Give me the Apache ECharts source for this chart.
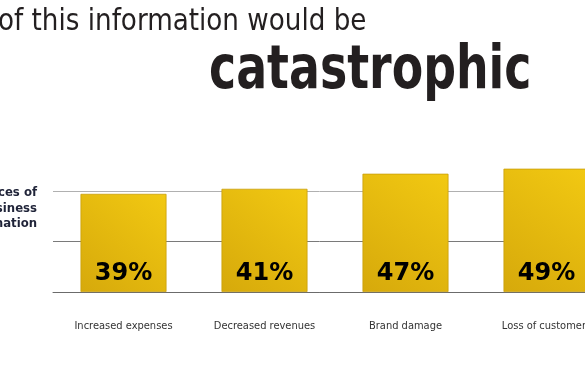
<!DOCTYPE html>
<html>
<head>
<meta charset="utf-8">
<script src="https://cdn.jsdelivr.net/npm/echarts@6/dist/echarts.min.js"></script>
<style>html,body{margin:0;padding:0;background:#fff;}#c{width:585px;height:372px;}</style>
</head>
<body>
<div id="c"></div>
<script>
const categories = ['Increased expenses', 'Decreased revenues', 'Brand damage', 'Loss of customers'];
const values = [39, 41, 47, 49];
const yTicks = [0, 20, 40, 60];
const titleLine1 = 'of this information would be';
const titleLine2 = 'catastrophic';
const sideLabel = ['Consequences of', 'loss of business', 'information'];

const NARROW = '"DejaVu Sans Condensed", "Liberation Sans Narrow", sans-serif';
const chart = echarts.init(document.getElementById('c'));
chart.setOption({
  animation: false,
  backgroundColor: '#ffffff',
  graphic: [
    { type: 'text', x: -2, y: 6, scaleX: 0.94, style: { text: titleLine1, font: '31px ' + NARROW, fill: '#231f20' } },
    { type: 'text', x: 209, y: 42, scaleX: 0.835, style: { text: titleLine2, font: 'bold 61px ' + NARROW, fill: '#231f20' } },
    { type: 'text', x: 37, y: 185, style: { text: sideLabel.join('\n'), font: 'bold 13px ' + NARROW, fill: '#1f2338', align: 'right', lineHeight: 15.5 } }
  ],
  grid: { left: 53, top: 141, width: 564, height: 151, outerBoundsMode: 'none', containLabel: false },
  xAxis: {
    type: 'category',
    data: categories,
    axisLine: { show: true, lineStyle: { color: '#6b6b6b', width: 1 } },
    axisTick: { show: false },
    axisLabel: { margin: 29, fontSize: 11, color: '#333', fontFamily: NARROW }
  },
  yAxis: {
    type: 'value',
    min: yTicks[0], max: yTicks[yTicks.length - 1], interval: 20,
    axisLine: { show: false }, axisTick: { show: false }, axisLabel: { show: false },
    splitLine: { show: true, lineStyle: { color: ['#6b6b6b', '#7a7a7a', '#b0b0b0', 'rgba(0,0,0,0)'], width: 1 } }
  },
  series: [{
    type: 'bar',
    data: values,
    barWidth: 86,
    itemStyle: {
      color: new echarts.graphic.LinearGradient(1, 0, 0, 1, [
        { offset: 0, color: '#f2c912' },
        { offset: 1, color: '#d6a90b' }
      ]),
      borderColor: '#c9a00b', borderWidth: 0.8
    },
    label: {
      show: true, position: 'insideBottom', distance: 6,
      formatter: '{c}%', fontSize: 24, fontWeight: 'bold', color: '#000', fontFamily: '"DejaVu Sans", sans-serif'
    }
  }]
});
</script>
</body>
</html>
